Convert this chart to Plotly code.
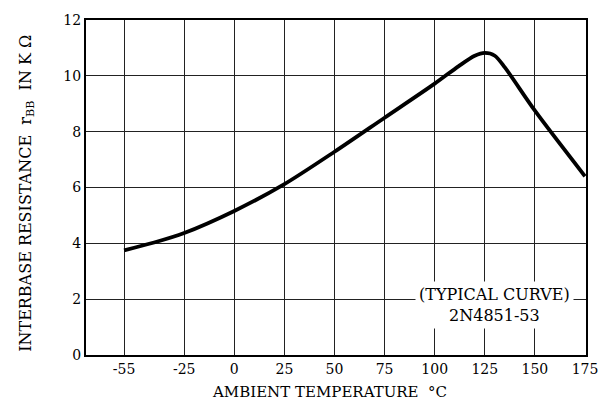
import plotly.graph_objects as go

# Curve data
temp_c = [-55, -40, -25, 0, 25, 50, 75, 100, 112, 120, 125, 130, 135, 150, 175]
r_bb_kohm = [3.75, 4.03, 4.37, 5.16, 6.12, 7.28, 8.5, 9.72, 10.35, 10.72, 10.82, 10.72, 10.3, 8.75, 6.4]

x_ticks = [-55, -25, 0, 25, 50, 75, 100, 125, 150, 175]
x_tick_labels = ["-55", "-25", "0", "25", "50", "75", "100", "125", "150", "175"]
y_ticks = [0, 2, 4, 6, 8, 10, 12]
y_tick_labels = ["0", "2", "4", "6", "8", "10", "12"]

FONT = "DejaVu Serif, Liberation Serif, serif"

fig = go.Figure()
fig.add_trace(go.Scatter(
    x=temp_c, y=r_bb_kohm, mode="lines",
    line=dict(color="black", width=3.8, shape="spline", smoothing=0.8),
    showlegend=False, hoverinfo="skip",
))

fig.update_layout(
    width=610, height=405,
    margin=dict(l=86, r=20, t=12, b=50),
    paper_bgcolor="white", plot_bgcolor="white",
    font=dict(family=FONT, color="black", size=14),
    xaxis=dict(
        range=[-74, 175.5], tickvals=x_ticks, ticktext=x_tick_labels,
        showgrid=True, gridcolor="#222", gridwidth=1,
        showline=True, linecolor="black", linewidth=2, mirror=True,
        zeroline=False, ticks="", tickfont=dict(size=14, family=FONT),
    ),
    yaxis=dict(
        range=[0, 12], tickvals=y_ticks, ticktext=y_tick_labels,
        showgrid=True, gridcolor="#222", gridwidth=1,
        showline=True, linecolor="black", linewidth=2, mirror=True,
        zeroline=False, ticks="", tickfont=dict(size=14, family=FONT),
    ),
    annotations=[
        dict(text="AMBIENT TEMPERATURE  °C", xref="paper", yref="paper",
             x=0.486, y=-0.111, xanchor="center", yanchor="middle", showarrow=False,
             font=dict(size=15, family=FONT)),
        dict(text="INTERBASE RESISTANCE  r<sub>BB</sub>  IN K Ω", xref="paper", yref="paper",
             x=-0.118, y=0.481, xanchor="center", yanchor="middle", textangle=-90,
             showarrow=False, font=dict(size=16, family=FONT)),
        dict(text="(TYPICAL CURVE)<br>2N4851-53", x=130, y=1.8, xref="x", yref="y",
             showarrow=False, bgcolor="white", borderpad=3,
             font=dict(size=16, family=FONT), align="center"),
    ],
)

fig.write_html("out.html")
